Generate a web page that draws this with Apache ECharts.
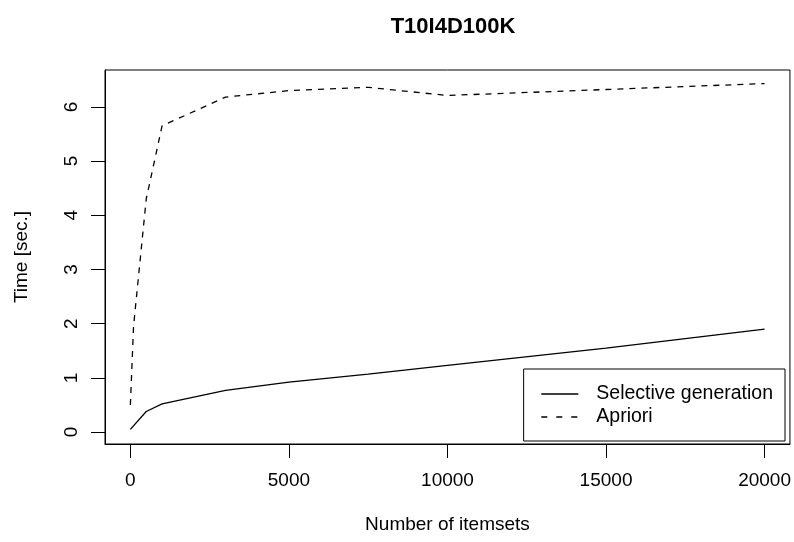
<!DOCTYPE html>
<html>
<head>
<meta charset="utf-8">
<script src="https://cdn.jsdelivr.net/npm/echarts@6/dist/echarts.min.js"></script>
<style>
html,body{margin:0;padding:0;background:#fff;}
#chart{width:794px;height:542px;}
</style>
</head>
<body>
<div id="chart"></div>
<script>
// ---- data ----
var chartTitle = "T10I4D100K";
var xAxisName = "Number of itemsets";
var yAxisName = "Time [sec.]";
var xTicks = [0, 5000, 10000, 15000, 20000];
var yTicks = [0, 1, 2, 3, 4, 5, 6];
var selectiveX = [0, 500, 1000, 3000, 5000, 7500, 10000, 15000, 20000];
var selectiveY = [0.05, 0.38, 0.52, 0.77, 0.92, 1.07, 1.23, 1.55, 1.90];
var aprioriX = [0, 100, 500, 1000, 3000, 5000, 7500, 10000, 15000, 20000];
var aprioriY = [0.50, 1.95, 4.30, 5.65, 6.18, 6.30, 6.36, 6.21, 6.32, 6.43];
var seriesNames = ["Selective generation", "Apriori"];

function pairs(xs, ys) { return xs.map(function (x, i) { return [x, ys[i]]; }); }

var FONT = '"Liberation Sans", Arial, Helvetica, sans-serif';
var DASH = [6, 6];
var chart = echarts.init(document.getElementById('chart'), null, {renderer: 'canvas'});
chart.setOption({
  animation: false,
  backgroundColor: '#fff',
  textStyle: {fontFamily: FONT, color: '#000'},
  title: {
    text: chartTitle,
    left: 448, top: 11, textAlign: 'center',
    textStyle: {fontFamily: FONT, fontSize: 22, fontWeight: 'bold', color: '#000'}
  },
  grid: {left: 105, right: 3, top: 70, bottom: 98, show: true, borderColor: '#000', borderWidth: 1, backgroundColor: 'transparent', containLabel: false},
  legend: {
    orient: 'vertical',
    right: 9, bottom: 101,
    data: [
      {name: seriesNames[0], lineStyle: {type: 'solid', width: 1.3, color: '#000'}},
      {name: seriesNames[1], lineStyle: {type: [6, 9], width: 1.3, color: '#000'}}
    ],
    borderColor: '#000', borderWidth: 1, borderRadius: 0,
    padding: [15, 12, 14, 17],
    itemWidth: 37, itemHeight: 14, itemGap: 3,
    backgroundColor: '#fff',
    itemStyle: {color: 'rgba(0,0,0,0)', borderWidth: 0, opacity: 0},
    textStyle: {fontFamily: FONT, fontSize: 19.5, color: '#000', lineHeight: 20, padding: [0, 0, 0, 13]}
  },
  xAxis: {
    type: 'value', min: -800, max: 20800,
    name: xAxisName, nameLocation: 'middle', nameGap: 71,
    nameTextStyle: {fontFamily: FONT, fontSize: 19, color: '#000'},
    axisLine: {show: true, onZero: false, lineStyle: {color: '#000', width: 1}},
    axisTick: {show: true, length: 14, customValues: xTicks, lineStyle: {color: '#000', width: 1}},
    axisLabel: {customValues: xTicks, margin: 27, fontFamily: FONT, fontSize: 19, color: '#000',
      formatter: function (v) { return String(v); }},
    splitLine: {show: false}
  },
  yAxis: {
    type: 'value', min: -0.22, max: 6.68,
    name: yAxisName, nameLocation: 'middle', nameGap: 74,
    nameTextStyle: {fontFamily: FONT, fontSize: 19, color: '#000'},
    axisLine: {show: true, onZero: false, lineStyle: {color: '#000', width: 1}},
    axisTick: {show: true, length: 14, customValues: yTicks, lineStyle: {color: '#000', width: 1}},
    axisLabel: {customValues: yTicks, rotate: 90, margin: 24, fontFamily: FONT, fontSize: 19, color: '#000',
      formatter: function (v) { return String(v); }},
    splitLine: {show: false}
  },
  series: [
    {
      name: seriesNames[0], type: 'line', data: pairs(selectiveX, selectiveY),
      symbol: 'none', lineStyle: {color: '#000', width: 1.3, type: 'solid'}, itemStyle: {color: '#000'}
    },
    {
      name: seriesNames[1], type: 'line', data: pairs(aprioriX, aprioriY),
      symbol: 'none', lineStyle: {color: '#000', width: 1.3, type: DASH}, itemStyle: {color: '#000'}
    }
  ]
});
</script>
</body>
</html>
